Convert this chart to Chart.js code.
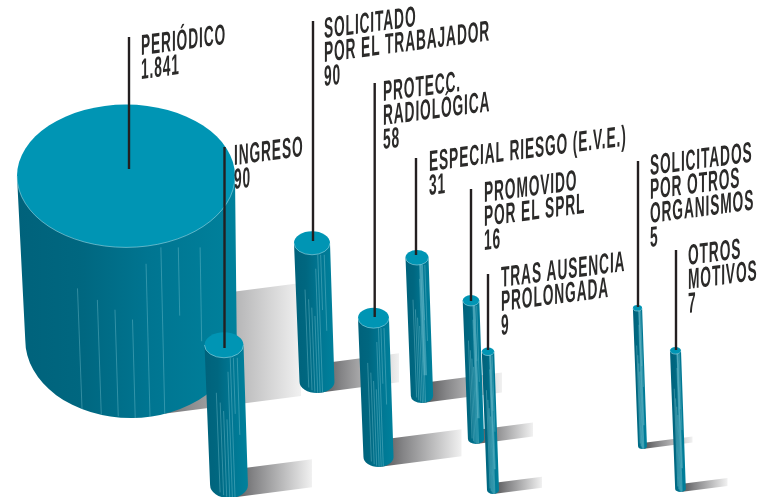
<!DOCTYPE html>
<html>
<head>
<meta charset="utf-8">
<style>
  html, body { margin: 0; padding: 0; background: #fff; }
  canvas { display: block; }
</style>
</head>
<body>
<canvas id="myChart" width="761" height="497"></canvas>
<script src="https://cdn.jsdelivr.net/npm/chart.js@4/dist/chart.umd.min.js"></script>
<script>
// datos
var categorias = [
  ["PERIÓDICO"],
  ["INGRESO"],
  ["SOLICITADO", "POR EL TRABAJADOR"],
  ["PROTECC.", "RADIOLÓGICA"],
  ["ESPECIAL RIESGO (E.V.E.)"],
  ["PROMOVIDO", "POR EL SPRL"],
  ["TRAS AUSENCIA", "PROLONGADA"],
  ["SOLICITADOS", "POR OTROS", "ORGANISMOS"],
  ["OTROS", "MOTIVOS"]
];
var valores = [1841, 90, 90, 58, 31, 16, 9, 5, 7];
var valoresTexto = ["1.841", "90", "90", "58", "31", "16", "9", "5", "7"];

// composicion del dibujo, en unidades de los ejes ocultos
var centroX = [126, 224, 312, 373.5, 417, 471, 488, 637.5, 675.5];
var techoY = [176, 345, 243, 318, 257.5, 300.5, 351.5, 308, 350.5];
var baseY = [340, 485, 382, 457, 396, 439, 490, 446, 489];
var fondoY = [418, 498, 393, 467, 403, 444, 494, 449, 492];
var radio = [109, 19.5, 18, 15.5, 11.5, 8.3, 6.2, 4.6, 5.5];
var sombraLargo = [170, 83, 82, 83, 80, 57, 49, 50, 47];
var sombraAlto = [113, 28, 29, 27, 20, 14, 11, 6, 8];
var guiaX = [129, 224.5, 313, 374.7, 416, 471, 488, 638, 676];
var guiaArriba = [37, 147, 21, 83, 158, 189, 274, 161, 250];
var guiaAbajo = [169, 348, 241, 317, 255, 301, 350, 307, 350];
var textoX = [141, 234, 324, 383, 429, 484, 501, 650, 688];
var textoY = [55, 165, 38, 101, 171, 202, 287, 175, 265];

// vetas claras del cuerpo: posicion relativa, inicio y fin
var vetas = [
  [0.27, 0.25, 0.96], [0.36, 0.32, 0.98], [0.44, 0.38, 0.99], [0.52, 0.44, 1],
  [0.59, 0.1, 1], [0.66, 0.0, 1], [0.74, 0.0, 0.4], [0.84, 0.0, 0.55]
];

var INCLINACION = 5, ELIPSE = 0.655, PENDIENTE = 0.13, ANCHO_TEXTO = 0.475, INTERLINEA = 24;

function dibujarSombra(ctx, bx, suelo, largo, alto) {
  var grad = ctx.createLinearGradient(bx, 0, bx + largo, 0);
  grad.addColorStop(0, "#4f4f51");
  grad.addColorStop(0.3, "#858587");
  grad.addColorStop(1, "#f1f1f1");
  ctx.fillStyle = grad;
  ctx.beginPath();
  ctx.moveTo(bx, suelo);
  ctx.lineTo(bx + largo, suelo - largo * PENDIENTE);
  ctx.lineTo(bx + largo, suelo - largo * PENDIENTE - alto);
  ctx.lineTo(bx, suelo - alto);
  ctx.closePath();
  ctx.fill();
}

function dibujarCilindro(ctx, cx, ty, bx, by, fy, rx) {
  var ry = rx * ELIPSE, brx = rx * 0.97, bry = fy - by;
  var grad = ctx.createLinearGradient(cx - rx, 0, bx + brx, 0);
  grad.addColorStop(0, "#00627b");
  grad.addColorStop(0.3, "#006780");
  grad.addColorStop(0.6, "#007591");
  grad.addColorStop(1, "#00819c");

  ctx.save();
  ctx.beginPath();
  ctx.moveTo(cx - rx, ty);
  ctx.lineTo(bx - brx, by);
  ctx.ellipse(bx, by, brx, bry, 0, Math.PI, 0, true);
  ctx.lineTo(cx + rx, ty);
  ctx.closePath();
  ctx.fillStyle = grad;
  ctx.fill();
  ctx.clip();

  // vetas
  ctx.lineWidth = 0.8;
  ctx.strokeStyle = "rgba(150,215,225,0.42)";
  vetas.forEach(function (v) {
    var x0 = cx - rx + v[0] * 2 * rx, x1 = bx - brx + v[0] * 2 * brx;
    var y0 = ty + ry + (by - ty) * v[1], y1 = ty + ry + (by - ty + bry - ry) * v[2];
    ctx.beginPath();
    ctx.moveTo(x0 + (x1 - x0) * v[1], y0);
    ctx.lineTo(x0 + (x1 - x0) * v[2], y1);
    ctx.stroke();
  });
  // banda de brillo en los cilindros finos
  if (rx < 12) {
    ctx.lineWidth = rx * 0.3;
    ctx.strokeStyle = "rgba(110,190,205,0.5)";
    ctx.beginPath();
    ctx.moveTo(cx + rx * 0.3, ty);
    ctx.lineTo(bx + brx * 0.3, by - (by - ty) * 0.15);
    ctx.stroke();
  }
  ctx.restore();

  // tapa
  ctx.beginPath();
  ctx.ellipse(cx, ty, rx, ry, 0, 0, Math.PI * 2);
  ctx.fillStyle = "#0095b4";
  ctx.fill();
  ctx.beginPath();
  ctx.ellipse(cx, ty, rx, ry, 0, 0, Math.PI);
  ctx.lineWidth = 0.7;
  ctx.strokeStyle = "rgba(190,230,238,0.7)";
  ctx.stroke();
}

function dibujarTexto(ctx, lineas, x, y) {
  ctx.font = "bold 29px 'Liberation Sans Narrow', 'Liberation Sans', sans-serif";
  ctx.letterSpacing = "1.8px";
  ctx.textBaseline = "alphabetic";
  ctx.textAlign = "left";
  ctx.fillStyle = "#2b2a29";
  lineas.forEach(function (txt, i) {
    ctx.save();
    ctx.transform(ANCHO_TEXTO, -PENDIENTE * ANCHO_TEXTO, 0, 1, x, y + i * INTERLINEA);
    ctx.fillText(txt, 0, 0);
    ctx.restore();
  });
}

var pluginCilindros = {
  id: "cilindros",
  beforeDatasetsDraw: function (chart) {
    var ctx = chart.ctx, sx = chart.scales.x, sy = chart.scales.y;
    var n = valores.length, i;
    var px = function (v) { return sx.getPixelForValue(v); };
    var py = function (v) { return sy.getPixelForValue(v); };

    for (i = 0; i < n; i++) {
      dibujarSombra(ctx, px(centroX[i] + INCLINACION), py(fondoY[i]), sombraLargo[i], sombraAlto[i]);
    }
    for (i = 0; i < n; i++) {
      dibujarCilindro(ctx, px(centroX[i]), py(techoY[i]), px(centroX[i] + INCLINACION), py(baseY[i]), py(fondoY[i]), radio[i]);
    }
    ctx.strokeStyle = "#231f20";
    ctx.lineWidth = 2.4;
    for (i = 0; i < n; i++) {
      ctx.beginPath();
      ctx.moveTo(px(guiaX[i]), py(guiaArriba[i]));
      ctx.lineTo(px(guiaX[i]), py(guiaAbajo[i]));
      ctx.stroke();
    }
    for (i = 0; i < n; i++) {
      dibujarTexto(ctx, categorias[i].concat(valoresTexto[i]), px(textoX[i]), py(textoY[i]));
    }
  }
};

var ctx = document.getElementById("myChart").getContext("2d");
var chart = new Chart(ctx, {
  type: "bubble",
  data: {
    labels: categorias.map(function (c) { return c.join(" "); }),
    datasets: [{
      label: "Reconocimientos",
      data: valores.map(function (v, i) {
        return { x: centroX[i], y: techoY[i], r: 0, valor: v };
      }),
      backgroundColor: "rgba(0,0,0,0)",
      borderWidth: 0
    }]
  },
  options: {
    responsive: false,
    animation: false,
    events: [],
    layout: { padding: 0 },
    plugins: { legend: { display: false }, tooltip: { enabled: false } },
    scales: {
      x: { type: "linear", display: false, min: 0, max: 761 },
      y: { type: "linear", display: false, min: 0, max: 497, reverse: true }
    }
  },
  plugins: [pluginCilindros]
});
</script>
</body>
</html>
